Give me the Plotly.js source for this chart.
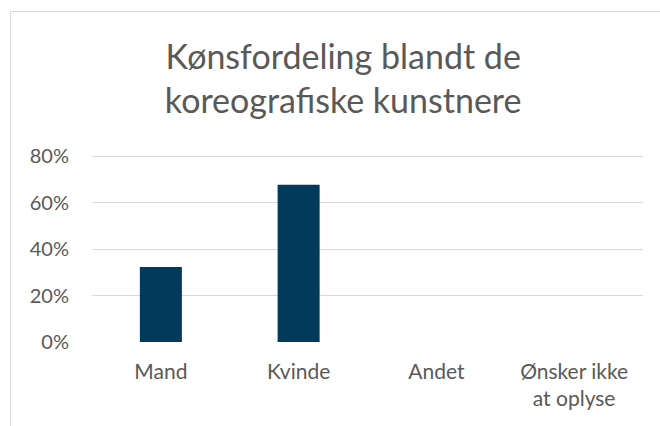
<!DOCTYPE html>
<html>
<head>
<meta charset="utf-8">
<script src="https://cdn.plot.ly/plotly-3.0.1.min.js"></script>
<style>
  html, body { margin: 0; padding: 0; background: #ffffff; }
  #wrap { position: relative; width: 660px; height: 426px; overflow: hidden; }
  #chart { position: absolute; left: 0; top: 0; width: 660px; height: 426px; }
  #frame { position: absolute; left: 10px; top: 11px; width: 700px; height: 500px;
           border-left: 1.5px solid #d9d9d9; border-top: 1.5px solid #d9d9d9; pointer-events: none; }
</style>
</head>
<body>
<div id="wrap">
  <div id="chart"></div>
  <div id="frame"></div>
</div>
<script>
const categories = ["Mand", "Kvinde", "Andet", "Ønsker ikke<br>at oplyse"];
const shares = [0.323, 0.677, 0, 0];
const yTickValues = [0, 0.2, 0.4, 0.6, 0.8];
const yTickLabels = ["0%", "20%", "40%", "60%", "80%"];
const chartTitle = "Kønsfordeling blandt de<br>koreografiske kunstnere";

const textColor = "#595959";
const fontFamily = "Lato, 'Open Sans', sans-serif";

const data = [{
  type: "bar",
  x: categories,
  y: shares,
  width: 0.305,
  marker: { color: "#023a5b" },
  hoverinfo: "none"
}];

const layout = {
  width: 660,
  height: 426,
  margin: { l: 92, r: 17, t: 154, b: 84, pad: 0 },
  paper_bgcolor: "rgba(0,0,0,0)",
  plot_bgcolor: "rgba(0,0,0,0)",
  showlegend: false,
  font: { family: fontFamily, color: textColor, size: 20 },
  title: {
    text: chartTitle,
    x: 0.52, xanchor: "center",
    y: 0.838, yanchor: "top",
    font: { family: fontFamily, size: 34, color: textColor }
  },
  xaxis: {
    type: "category",
    showgrid: false,
    zeroline: false,
    showline: false,
    ticks: "",
    ticklabelstandoff: 15,
    tickfont: { family: fontFamily, size: 21, color: textColor }
  },
  yaxis: {
    range: [0, 0.81],
    tickvals: yTickValues,
    ticktext: yTickLabels,
    showgrid: true,
    gridcolor: "#d9d9d9",
    gridwidth: 1.3,
    zeroline: false,
    showline: false,
    ticks: "",
    ticklabelstandoff: 22,
    tickfont: { family: fontFamily, size: 20, color: textColor },
    fixedrange: true
  },
  bargap: 0.7
};

Plotly.newPlot("chart", data, layout, { displayModeBar: false, staticPlot: true });
</script>
</body>
</html>
